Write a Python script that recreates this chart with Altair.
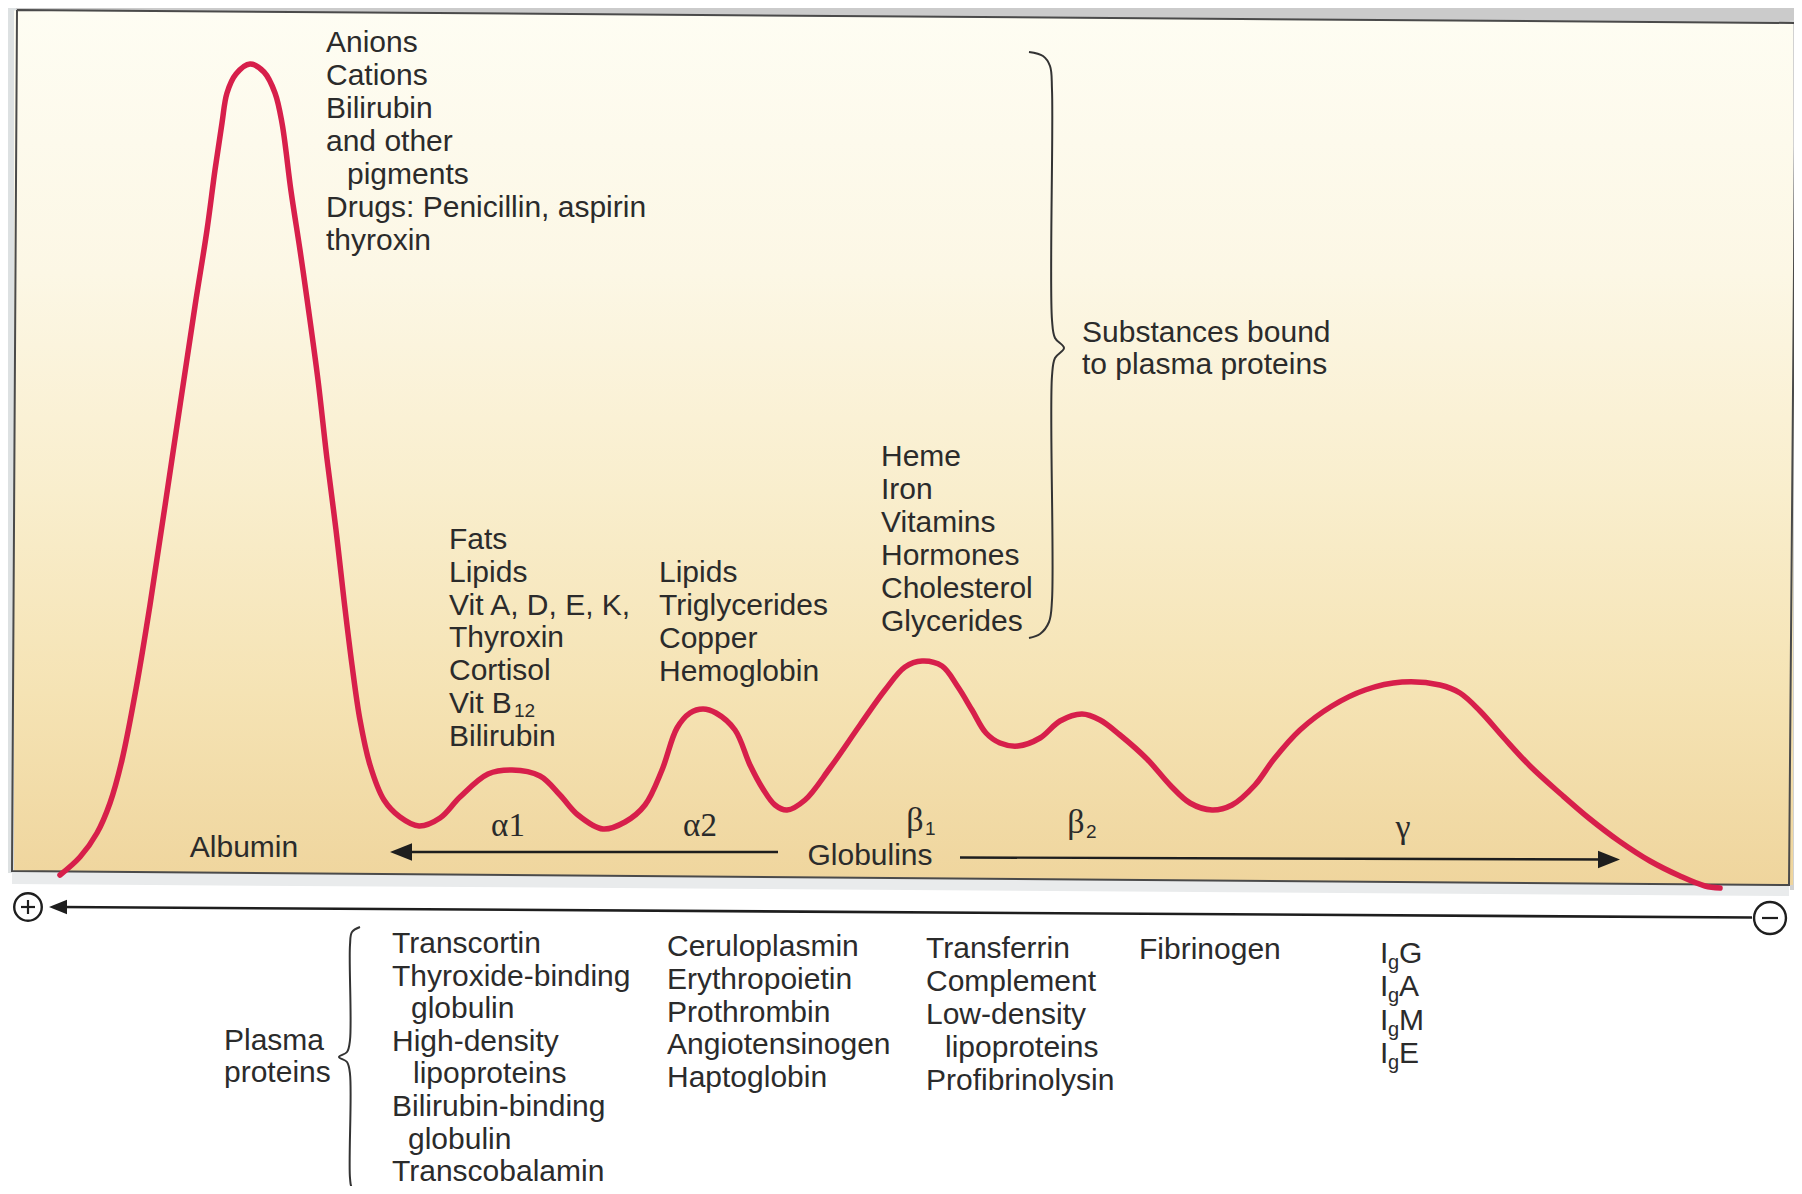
import altair as alt
import pandas as pd

# ---------------- data ----------------
# Electrophoresis trace: migration position (x) and trace height (page-y units, smaller = taller)
trace_x = [60, 80, 97, 110, 122, 136, 150, 172, 195, 207,
           215, 222, 227, 236, 250, 264, 275, 282, 291, 300,
           308, 318, 327, 336, 344, 352, 360, 370, 384, 400,
           419, 440, 460, 488, 512, 540, 560, 578, 603, 625,
           645, 662, 677, 690, 703, 716, 735, 750, 763, 775,
           787, 805, 830, 860, 885, 905, 922, 942, 958, 972,
           986, 1000, 1018, 1040, 1060, 1082, 1100, 1120, 1147, 1170,
           1190, 1212, 1232, 1255, 1274, 1300, 1332, 1365, 1402, 1440,
           1460, 1480, 1504, 1530, 1562, 1590, 1619, 1650, 1680, 1705,
           1720]
trace_y = [875, 857, 833, 803, 760, 689, 605, 459, 306, 230,
           170, 123, 93, 74, 64, 72, 93, 123, 191, 250,
           306, 380, 459, 530, 600, 665, 720, 765, 800, 817,
           826, 818, 797, 774, 770, 776, 795, 815, 829, 822,
           805, 770, 728, 713, 709, 713, 730, 765, 789, 805,
           810, 800, 768, 725, 690, 667, 661, 666, 687, 710,
           733, 743, 746, 738, 721, 714, 720, 735, 759, 785,
           803, 810, 805, 785, 759, 730, 706, 690, 682, 685,
           693, 711, 738, 766, 795, 819, 841, 861, 876, 886,
           888]

albumin_bound = ["Anions", "Cations", "Bilirubin", "and other", "pigments",
                 "Drugs: Penicillin, aspirin", "thyroxin"]
alpha1_bound = ["Fats", "Lipids", "Vit A, D, E, K,", "Thyroxin", "Cortisol", "Vit B", "Bilirubin"]
alpha2_bound = ["Lipids", "Triglycerides", "Copper", "Hemoglobin"]
beta1_bound = ["Heme", "Iron", "Vitamins", "Hormones", "Cholesterol", "Glycerides"]
bound_label = ["Substances bound", "to plasma proteins"]
plasma_label = ["Plasma", "proteins"]
alpha1_proteins = ["Transcortin", "Thyroxide-binding", "globulin", "High-density", "lipoproteins",
                   "Bilirubin-binding", "globulin", "Transcobalamin"]
alpha2_proteins = ["Ceruloplasmin", "Erythropoietin", "Prothrombin", "Angiotensinogen", "Haptoglobin"]
beta1_proteins = ["Transferrin", "Complement", "Low-density", "lipoproteins", "Profibrinolysin"]
beta2_proteins = ["Fibrinogen"]
gamma_classes = ["G", "A", "M", "E"]

# ---------------- coordinate frame ----------------
X0, X1 = 8, 1794
Y0, Y1 = 8, 1186
W, H = X1 - X0, Y1 - Y0
XS = alt.Scale(domain=[X0, X1], nice=False, zero=False)
YS = alt.Scale(domain=[Y1, Y0], nice=False, zero=False)


def X(f="x"):
    return alt.X(f"{f}:Q", scale=XS, axis=None)


def Y(f="y"):
    return alt.Y(f"{f}:Q", scale=YS, axis=None)


SANS = "Liberation Sans"
SERIF = "Liberation Serif"
INK = "#2b2b2b"
FS = 30

# ---------------- layout of annotation blocks ----------------
rows = []


def block(lines, x, y0, dy, indent=None, fs=FS):
    indent = indent or {}
    for i, t in enumerate(lines):
        rows.append({"x": x + indent.get(i, 0), "y": y0 + i * dy, "t": t, "fs": fs})


block(albumin_bound, 326, 43, 33, {4: 21})
block(alpha1_bound, 449, 540, 32.8)
block(alpha2_bound, 659, 573, 33)
block(beta1_bound, 881, 457, 33)
block(bound_label, 1082, 333, 32)
block(plasma_label, 224, 1041, 32)
block(alpha1_proteins, 392, 944, 32.6, {2: 19, 4: 21, 6: 16})
block(alpha2_proteins, 667, 947, 32.8)
block(beta1_proteins, 926, 949, 33, {3: 19})
block(beta2_proteins, 1139, 950, 33)
# immunoglobulins: I + subscript g + class letter
for i, c in enumerate(gamma_classes):
    yy = 954 + i * 33.3
    rows.append({"x": 1380, "y": yy, "t": "I", "fs": FS})
    rows.append({"x": 1388, "y": yy + 9, "t": "g", "fs": 20})
    rows.append({"x": 1399, "y": yy, "t": c, "fs": FS})
# Vit B12 subscript
rows.append({"x": 514, "y": 540 + 5 * 32.8 + 7, "t": "12", "fs": 19})
text_left = pd.DataFrame(rows)

text_center = pd.DataFrame([
    {"x": 244, "y": 848, "t": "Albumin", "fs": FS},
    {"x": 870, "y": 856, "t": "Globulins", "fs": FS},
])

greek = pd.DataFrame([
    {"x": 508, "y": 826, "t": "α1", "fs": 33},
    {"x": 700, "y": 826, "t": "α2", "fs": 33},
    {"x": 915, "y": 821, "t": "β", "fs": 34},
    {"x": 1076, "y": 823, "t": "β", "fs": 34},
    {"x": 1403, "y": 828, "t": "γ", "fs": 34},
])
greek_sub = pd.DataFrame([
    {"x": 925, "y": 829, "t": "1", "fs": 19},
    {"x": 1086, "y": 832, "t": "2", "fs": 19},
])

# ---------------- frame / decoration ----------------
top_band = pd.DataFrame({"x": [X0, X1], "y": [Y0, Y0], "y2": [11, 24]})
shadow = pd.DataFrame({"x": [12, 1789], "y": [871, 885], "y2": [884, 896]})
strips = pd.DataFrame([
    {"x": X0, "x2": 16, "y": Y0, "y2": 873, "c": "#dde1e2"},
    {"x": 1790, "x2": X1, "y": 20, "y2": 890, "c": "#d2d2d2"},
])
panel = pd.DataFrame({"x": [14, 1793], "top": [10.5, 23.5], "bot": [871, 885]})
border = pd.DataFrame({"x": [17, 1796, 1789, 12, 17], "y": [10, 23, 885, 871, 10],
                       "i": [0, 1, 2, 3, 4]})

braces = pd.DataFrame({
    "x": [1029, 1043, 1050, 1052, 1052, 1055, 1064, 1055, 1052, 1052, 1049, 1040, 1029,
          360, 352, 350, 350, 347, 339, 347, 350, 350, 352, 360],
    "y": [52, 56, 66, 90, 320, 338, 348, 358, 376, 600, 622, 634, 638,
          927, 932, 945, 1040, 1052, 1057, 1062, 1074, 1178, 1188, 1193],
    "id": ["r"] * 13 + ["l"] * 11,
    "i": list(range(13)) + list(range(11)),
})

rules = pd.DataFrame([
    {"x": 399, "x2": 778, "y": 852, "y2": 852, "w": 2.4},      # globulins arrow, left part
    {"x": 960, "x2": 1610, "y": 857.5, "y2": 859.5, "w": 2.4},  # globulins arrow, right part
    {"x": 60, "x2": 1752, "y": 907, "y2": 917.5, "w": 2.6},     # electrophoresis axis
    {"x": 21, "x2": 35, "y": 907, "y2": 907, "w": 2.2},         # plus
    {"x": 28, "x2": 28, "y": 900, "y2": 914, "w": 2.2},
    {"x": 1762, "x2": 1778, "y": 918, "y2": 918, "w": 2.2},     # minus
])
heads = pd.DataFrame([
    {"x": 401, "y": 852, "ang": 180, "s": 484},
    {"x": 1609, "y": 859.5, "ang": 0, "s": 484},
    {"x": 58, "y": 907, "ang": 180, "s": 324},
])
poles = pd.DataFrame([
    {"x": 28, "y": 907, "s": 760},
    {"x": 1770, "y": 918, "s": 1018},
])

trace = pd.DataFrame({"x": trace_x, "y": trace_y})

# ---------------- layers ----------------
bg_top = alt.Chart(top_band).mark_area(color="#cbcbcb").encode(x=X(), y=Y(), y2="y2:Q")
bg_shadow = alt.Chart(shadow).mark_area(color="#e9ebec").encode(x=X(), y=Y(), y2="y2:Q")
bg_strips = alt.Chart(strips).mark_rect().encode(
    x=X(), x2="x2:Q", y=Y(), y2="y2:Q", color=alt.Color("c:N", scale=None))

panel_fill = alt.Chart(panel).mark_area(
    color=alt.Gradient(
        gradient="linear",
        stops=[alt.GradientStop(color="#fefdf3", offset=0),
               alt.GradientStop(color="#fcf7e5", offset=0.3),
               alt.GradientStop(color="#f9eecd", offset=0.55),
               alt.GradientStop(color="#f5e3b4", offset=0.78),
               alt.GradientStop(color="#efd59d", offset=1)],
        x1=0, x2=0, y1=0, y2=1),
).encode(x=X(), y=Y("top"), y2="bot:Q")

panel_border = alt.Chart(border).mark_line(color="#4a4a4a", strokeWidth=2).encode(
    x=X(), y=Y(), order="i:Q")

curve = alt.Chart(trace).mark_line(
    color="#d71f4b", strokeWidth=5.5, interpolate="catmull-rom", strokeCap="round"
).encode(x=X(), y=Y())

brace_lines = alt.Chart(braces).mark_line(
    color="#333333", strokeWidth=2, interpolate="catmull-rom"
).encode(x=X(), y=Y(), detail="id:N", order="i:Q")

rule_lines = alt.Chart(rules).mark_rule(color="#1e1e1e").encode(
    x=X(), x2="x2:Q", y=Y(), y2="y2:Q", strokeWidth=alt.StrokeWidth("w:Q", scale=None))

arrow_heads = alt.Chart(heads).mark_point(
    shape="M1,0L-1,-0.8L-1,0.8Z", filled=True, color="#1e1e1e", opacity=1
).encode(x=X(), y=Y(), angle=alt.Angle("ang:Q", scale=None), size=alt.Size("s:Q", scale=None))

pole_circles = alt.Chart(poles).mark_point(
    shape="circle", filled=False, color="#1e1e1e", strokeWidth=2.4, opacity=1
).encode(x=X(), y=Y(), size=alt.Size("s:Q", scale=None))

t_left = alt.Chart(text_left).mark_text(
    align="left", baseline="middle", font=SANS, color=INK
).encode(x=X(), y=Y(), text="t:N", size=alt.Size("fs:Q", scale=None))

t_center = alt.Chart(text_center).mark_text(
    align="center", baseline="middle", font=SANS, color=INK
).encode(x=X(), y=Y(), text="t:N", size=alt.Size("fs:Q", scale=None))

t_greek = alt.Chart(greek).mark_text(
    align="center", baseline="middle", font=SERIF, color=INK
).encode(x=X(), y=Y(), text="t:N", size=alt.Size("fs:Q", scale=None))

t_greek_sub = alt.Chart(greek_sub).mark_text(
    align="left", baseline="middle", font=SANS, color=INK
).encode(x=X(), y=Y(), text="t:N", size=alt.Size("fs:Q", scale=None))

chart = alt.layer(
    bg_top, bg_strips, bg_shadow, panel_fill, panel_border, curve, brace_lines,
    rule_lines, arrow_heads, pole_circles, t_left, t_center, t_greek, t_greek_sub
).properties(
    width=W, height=H, padding=0, background="white",
    autosize=alt.AutoSizeParams(type="none"),
).configure_view(stroke=None)

chart.save("out.html", embed_options={"renderer": "svg", "actions": False})
